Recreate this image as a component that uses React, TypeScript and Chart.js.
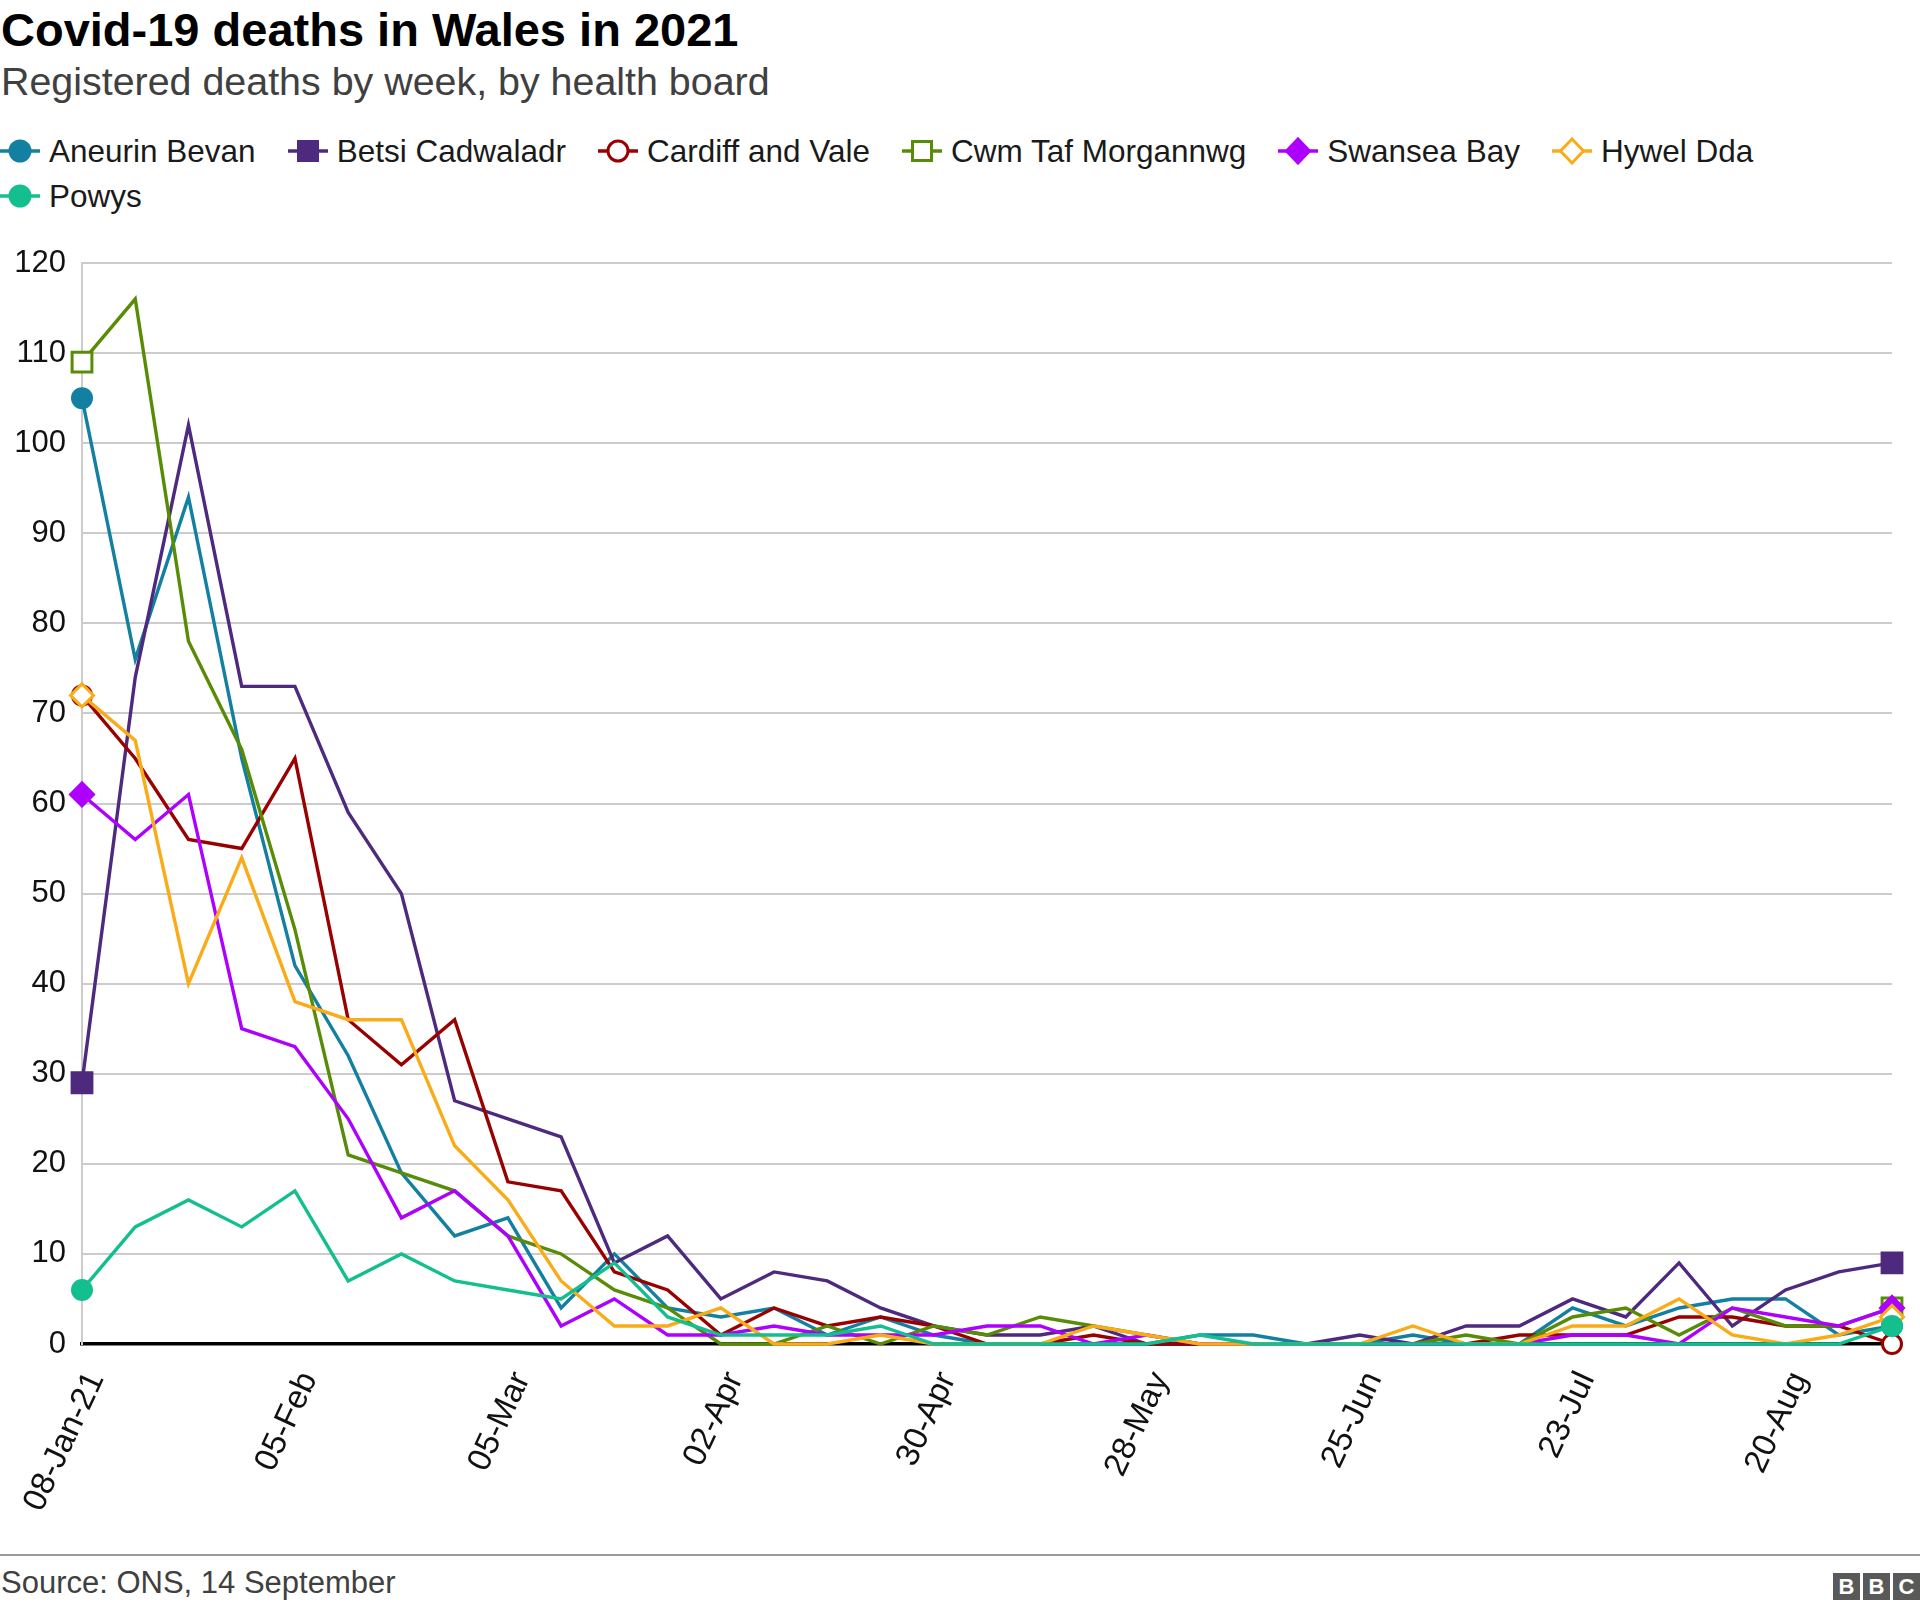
import React, { useEffect, useRef } from 'react';
import { Chart, registerables } from 'chart.js';

Chart.register(...registerables);

const FONT = '"Liberation Sans", Arial, Helvetica, sans-serif';

// Week ending dates (registered deaths), 2021
const weeks = [
  '08-Jan-21', '15-Jan', '22-Jan', '29-Jan', '05-Feb', '12-Feb', '19-Feb', '26-Feb',
  '05-Mar', '12-Mar', '19-Mar', '26-Mar', '02-Apr', '09-Apr', '16-Apr', '23-Apr',
  '30-Apr', '07-May', '14-May', '21-May', '28-May', '04-Jun', '11-Jun', '18-Jun',
  '25-Jun', '02-Jul', '09-Jul', '16-Jul', '23-Jul', '30-Jul', '06-Aug', '13-Aug',
  '20-Aug', '27-Aug', '03-Sep',
];

// Tick labels shown on the x axis
const xTickLabels = ['08-Jan-21', '05-Feb', '05-Mar', '02-Apr', '30-Apr', '28-May', '25-Jun', '23-Jul', '20-Aug'];

const aneurinBevan = [105, 76, 94, 65, 42, 32, 19, 12, 14, 4, 10, 4, 3, 4, 1, 3, 1, 0, 0, 0, 0, 1, 1, 0, 0, 1, 0, 0, 4, 2, 4, 5, 5, 1, 2];
const betsiCadwaladr = [29, 74, 102, 73, 73, 59, 50, 27, 25, 23, 9, 12, 5, 8, 7, 4, 2, 1, 1, 2, 0, 0, 0, 0, 1, 0, 2, 2, 5, 3, 9, 2, 6, 8, 9];
const cardiffAndVale = [72, 65, 56, 55, 65, 36, 31, 36, 18, 17, 8, 6, 1, 4, 2, 3, 2, 0, 0, 1, 0, 0, 0, 0, 0, 0, 0, 1, 1, 1, 3, 3, 2, 2, 0];
const cwmTafMorgannwg = [109, 116, 78, 66, 46, 21, 19, 17, 12, 10, 6, 4, 0, 0, 2, 0, 2, 1, 3, 2, 1, 0, 0, 0, 0, 0, 1, 0, 3, 4, 1, 4, 2, 2, 4];
const swanseaBay = [61, 56, 61, 35, 33, 25, 14, 17, 12, 2, 5, 1, 1, 2, 1, 1, 1, 2, 2, 0, 1, 0, 0, 0, 0, 0, 0, 0, 1, 1, 0, 4, 3, 2, 4];
const hywelDda = [72, 67, 40, 54, 38, 36, 36, 22, 16, 7, 2, 2, 4, 0, 0, 1, 0, 0, 0, 2, 1, 0, 0, 0, 0, 2, 0, 0, 2, 2, 5, 1, 0, 1, 3];
const powys = [6, 13, 16, 13, 17, 7, 10, 7, 6, 5, 9, 3, 1, 1, 1, 2, 0, 0, 0, 0, 0, 1, 0, 0, 0, 0, 0, 0, 0, 0, 0, 0, 0, 0, 2];

const yTicks = [0, 10, 20, 30, 40, 50, 60, 70, 80, 90, 100, 110, 120];

type Marker = 'circle' | 'rect' | 'rectRot';
interface Series { label: string; data: number[]; color: string; marker: Marker; hollow: boolean; }

const series: Series[] = [
  { label: 'Aneurin Bevan', data: aneurinBevan, color: '#1380A1', marker: 'circle', hollow: false },
  { label: 'Betsi Cadwaladr', data: betsiCadwaladr, color: '#4E2A7E', marker: 'rect', hollow: false },
  { label: 'Cardiff and Vale', data: cardiffAndVale, color: '#990000', marker: 'circle', hollow: true },
  { label: 'Cwm Taf Morgannwg', data: cwmTafMorgannwg, color: '#588C07', marker: 'rect', hollow: true },
  { label: 'Swansea Bay', data: swanseaBay, color: '#AE00FF', marker: 'rectRot', hollow: false },
  { label: 'Hywel Dda', data: hywelDda, color: '#FAAB18', marker: 'rectRot', hollow: true },
  { label: 'Powys', data: powys, color: '#13BF8E', marker: 'circle', hollow: false },
];

const markerRadius: Record<Marker, number> = { circle: 9.5, rect: 14, rectRot: 11.5 };

function LegendIcon({ s }: { s: Series }) {
  const fill = s.hollow ? '#ffffff' : s.color;
  let mark: React.ReactNode = null;
  if (s.marker === 'circle') {
    mark = <circle cx={20} cy={14} r={10} fill={fill} stroke={s.color} strokeWidth={3} />;
  } else if (s.marker === 'rect') {
    mark = <rect x={10.5} y={4.5} width={19} height={19} fill={fill} stroke={s.color} strokeWidth={3} />;
  } else {
    mark = <polygon points="20,2 31.5,14 20,26 8.5,14" fill={fill} stroke={s.color} strokeWidth={3} />;
  }
  return (
    <svg width={40} height={28} viewBox="0 0 40 28" style={{ display: 'block', flex: '0 0 auto' }}>
      <line x1={0} y1={14} x2={40} y2={14} stroke={s.color} strokeWidth={3.5} />
      {mark}
    </svg>
  );
}

export default function App() {
  const canvasRef = useRef<HTMLCanvasElement | null>(null);

  useEffect(() => {
    document.body.style.margin = '0';
    const canvas = canvasRef.current;
    if (!canvas) return;
    const last = weeks.length - 1;
    const n = series.length;
    const chart = new Chart(canvas, {
      type: 'line',
      data: {
        labels: weeks,
        datasets: series.map((s, i) => ({
          label: s.label,
          data: s.data,
          borderColor: s.color,
          backgroundColor: s.color,
          borderWidth: 3.4,
          tension: 0,
          fill: false,
          clip: false as any,
          order: n - 1 - i,
          pointStyle: s.marker,
          pointRadius: (ctx: any) => (ctx.dataIndex === 0 || ctx.dataIndex === last ? markerRadius[s.marker] : 0),
          pointHoverRadius: 0,
          pointBorderWidth: 3,
          pointBorderColor: s.color,
          pointBackgroundColor: s.hollow ? '#ffffff' : s.color,
        })),
      },
      options: {
        animation: false,
        responsive: true,
        maintainAspectRatio: false,
        events: [],
        layout: { padding: { top: 63, right: 28, left: 0, bottom: 0 } },
        plugins: {
          legend: { display: false },
          title: { display: false },
          tooltip: { enabled: false },
        },
        scales: {
          x: {
            grid: { display: false, drawTicks: false },
            border: { display: true, color: '#000000', width: 3.5 },
            ticks: {
              autoSkip: false,
              maxRotation: 65,
              minRotation: 65,
              padding: 22,
              labelOffset: 14,
              color: '#111111',
              font: { family: FONT, size: 33 },
              callback: (_v: any, i: number) => (xTickLabels.includes(weeks[i]) ? weeks[i] : ''),
            },
            afterFit: (scale: any) => {
              scale.height = 196;
              scale.paddingLeft = 0;
              scale.paddingRight = 0;
            },
          },
          y: {
            min: yTicks[0],
            max: yTicks[yTicks.length - 1],
            afterBuildTicks: (scale: any) => { scale.ticks = yTicks.map((v) => ({ value: v })); },
            ticks: {
              color: '#111111',
              padding: 16,
              font: { family: FONT, size: 31 },
            },
            grid: {
              drawTicks: false,
              lineWidth: 2,
              color: (ctx: any) => (ctx.tick && ctx.tick.value === 0 ? 'rgba(0,0,0,0)' : '#cccccc'),
            },
            border: { display: true, color: '#cccccc', width: 2 },
            afterFit: (scale: any) => { scale.width = 82; },
          },
        },
      } as any,
    });
    return () => chart.destroy();
  }, []);

  return (
    <div style={{ position: 'relative', width: 1920, height: 1609, background: '#ffffff', fontFamily: FONT, overflow: 'hidden' }}>
      <div style={{ position: 'absolute', left: 1, top: 6, fontSize: 47, lineHeight: '47px', fontWeight: 700, color: '#000000', whiteSpace: 'nowrap' }}>
        Covid-19 deaths in Wales in 2021
      </div>
      <div style={{ position: 'absolute', left: 1, top: 61, fontSize: 39.4, lineHeight: '40px', color: '#404040', whiteSpace: 'nowrap' }}>
        Registered deaths by week, by health board
      </div>
      <div style={{ position: 'absolute', left: 0, top: 135, width: 1800, display: 'flex', flexWrap: 'wrap', columnGap: 32, rowGap: 13 }}>
        {series.map((s) => (
          <div key={s.label} style={{ display: 'flex', alignItems: 'center', height: 32, gap: 9 }}>
            <LegendIcon s={s} />
            <span style={{ fontSize: 31.5, lineHeight: '32px', color: '#1a1a1a', whiteSpace: 'nowrap' }}>{s.label}</span>
          </div>
        ))}
      </div>
      <div style={{ position: 'absolute', left: 0, top: 200, width: 1920, height: 1340 }}>
        <canvas ref={canvasRef} />
      </div>
      <div style={{ position: 'absolute', left: 0, top: 1554, width: 1920, height: 2, background: '#9a9a9a' }} />
      <div style={{ position: 'absolute', left: 1, top: 1567, fontSize: 31, lineHeight: '31px', color: '#404040', whiteSpace: 'nowrap' }}>
        Source: ONS, 14 September
      </div>
      <div style={{ position: 'absolute', left: 1833, top: 1573, display: 'flex', gap: 3 }}>
        {['B', 'B', 'C'].map((ch, i) => (
          <div key={i} style={{ width: 27, height: 27, background: '#595959', color: '#ffffff', fontWeight: 700, fontSize: 22, lineHeight: '27px', textAlign: 'center' }}>{ch}</div>
        ))}
      </div>
    </div>
  );
}
